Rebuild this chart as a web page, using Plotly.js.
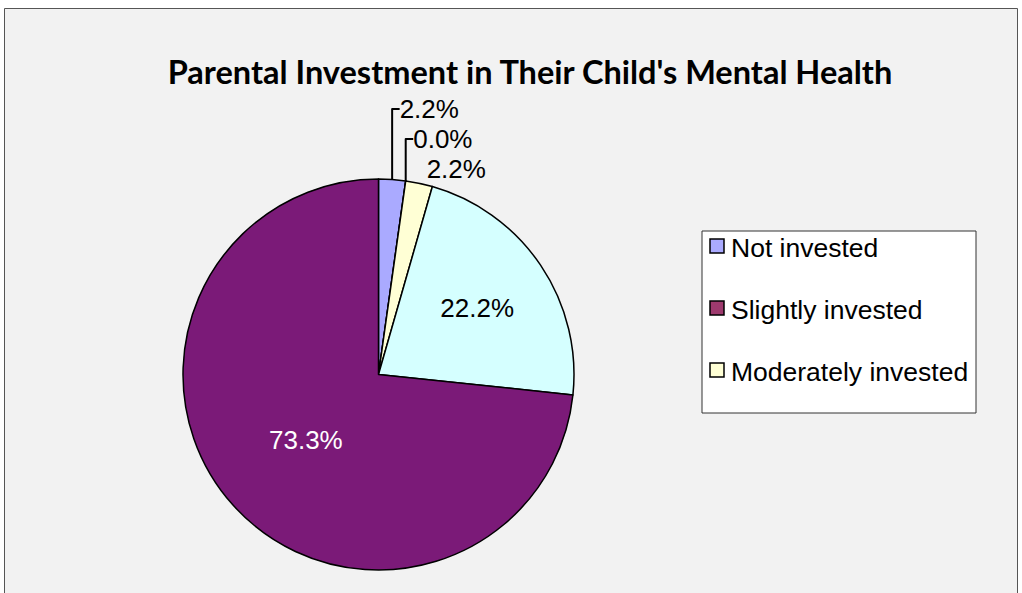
<!DOCTYPE html>
<html>
<head>
<meta charset="utf-8">
<script src="https://cdn.plot.ly/plotly-3.0.1.min.js"></script>
<style>
  html, body { margin: 0; padding: 0; background: #ffffff; }
  #chart { width: 1022px; height: 593px; }
</style>
</head>
<body>
<div id="chart"></div>
<script>
// ---- data ----
var categories = ["Not invested", "Slightly invested", "Moderately invested", "Very invested", "Extremely invested"];
var counts = [1, 0, 1, 10, 33];
var sliceColors = ["#AAAAFF", "#9E3A6E", "#FFFFD5", "#D5FFFF", "#7B1A78"];
var legendShown = categories.slice(0, 3);
var titleText = "Parental Investment in Their Child's Mental Health";

var W = 1022, H = 593;
function px(x) { return x / W; }
function py(y) { return 1 - y / H; }

var trace = {
  type: "pie",
  labels: categories,
  values: counts,
  sort: false,
  direction: "clockwise",
  rotation: 0,
  marker: { colors: sliceColors, line: { color: "#000000", width: 1.5 } },
  texttemplate: "%{percent:.1%}",
  textposition: ["outside", "outside", "outside", "inside", "inside"],
  textfont: { family: "Liberation Sans, Arial, sans-serif", size: 26, color: ["#000", "#000", "#000", "#000", "#fff"] },
  insidetextorientation: "horizontal",
  showlegend: false,
  hoverinfo: "label+percent",
  domain: { x: [px(183), px(574)], y: [py(570), py(179)] }
};

var shapes = [
  { type: "rect", xref: "paper", yref: "paper", x0: px(4.5), x1: px(1017.5), y0: -0.05, y1: py(8.5),
    fillcolor: "#F2F2F2", line: { color: "#555555", width: 1 }, layer: "below" },
  { type: "rect", xref: "paper", yref: "paper", x0: px(702), x1: px(976), y0: py(413), y1: py(231),
    fillcolor: "#FFFFFF", line: { color: "#333333", width: 1 }, layer: "below" }
];
var annotations = [];
var itemY = [247, 309, 371];
legendShown.forEach(function (lab, i) {
  var yc = itemY[i];
  shapes.push({ type: "rect", xref: "paper", yref: "paper",
    x0: px(710), x1: px(724), y0: py(yc + 6), y1: py(yc - 8),
    fillcolor: sliceColors[i], line: { color: "#000000", width: 1.5 } });
  annotations.push({ xref: "paper", yref: "paper", x: px(729), y: py(yc + 1), xanchor: "left", yanchor: "middle",
    text: lab, showarrow: false,
    font: { family: "Liberation Sans, Arial, sans-serif", size: 26.5, color: "#000" } });
});

var layout = {
  width: W, height: H,
  margin: { l: 0, r: 0, t: 0, b: 0 },
  paper_bgcolor: "#FFFFFF",
  showlegend: false,
  title: {
    text: titleText,
    x: px(530), xanchor: "center",
    y: py(73), yanchor: "middle",
    xref: "paper", yref: "paper",
    font: { family: "Lato, sans-serif", size: 32.5, weight: "bold", color: "#000" }
  },
  shapes: shapes,
  annotations: annotations
};

Plotly.newPlot("chart", [trace], layout, { displayModeBar: false, staticPlot: false });
</script>
</body>
</html>
